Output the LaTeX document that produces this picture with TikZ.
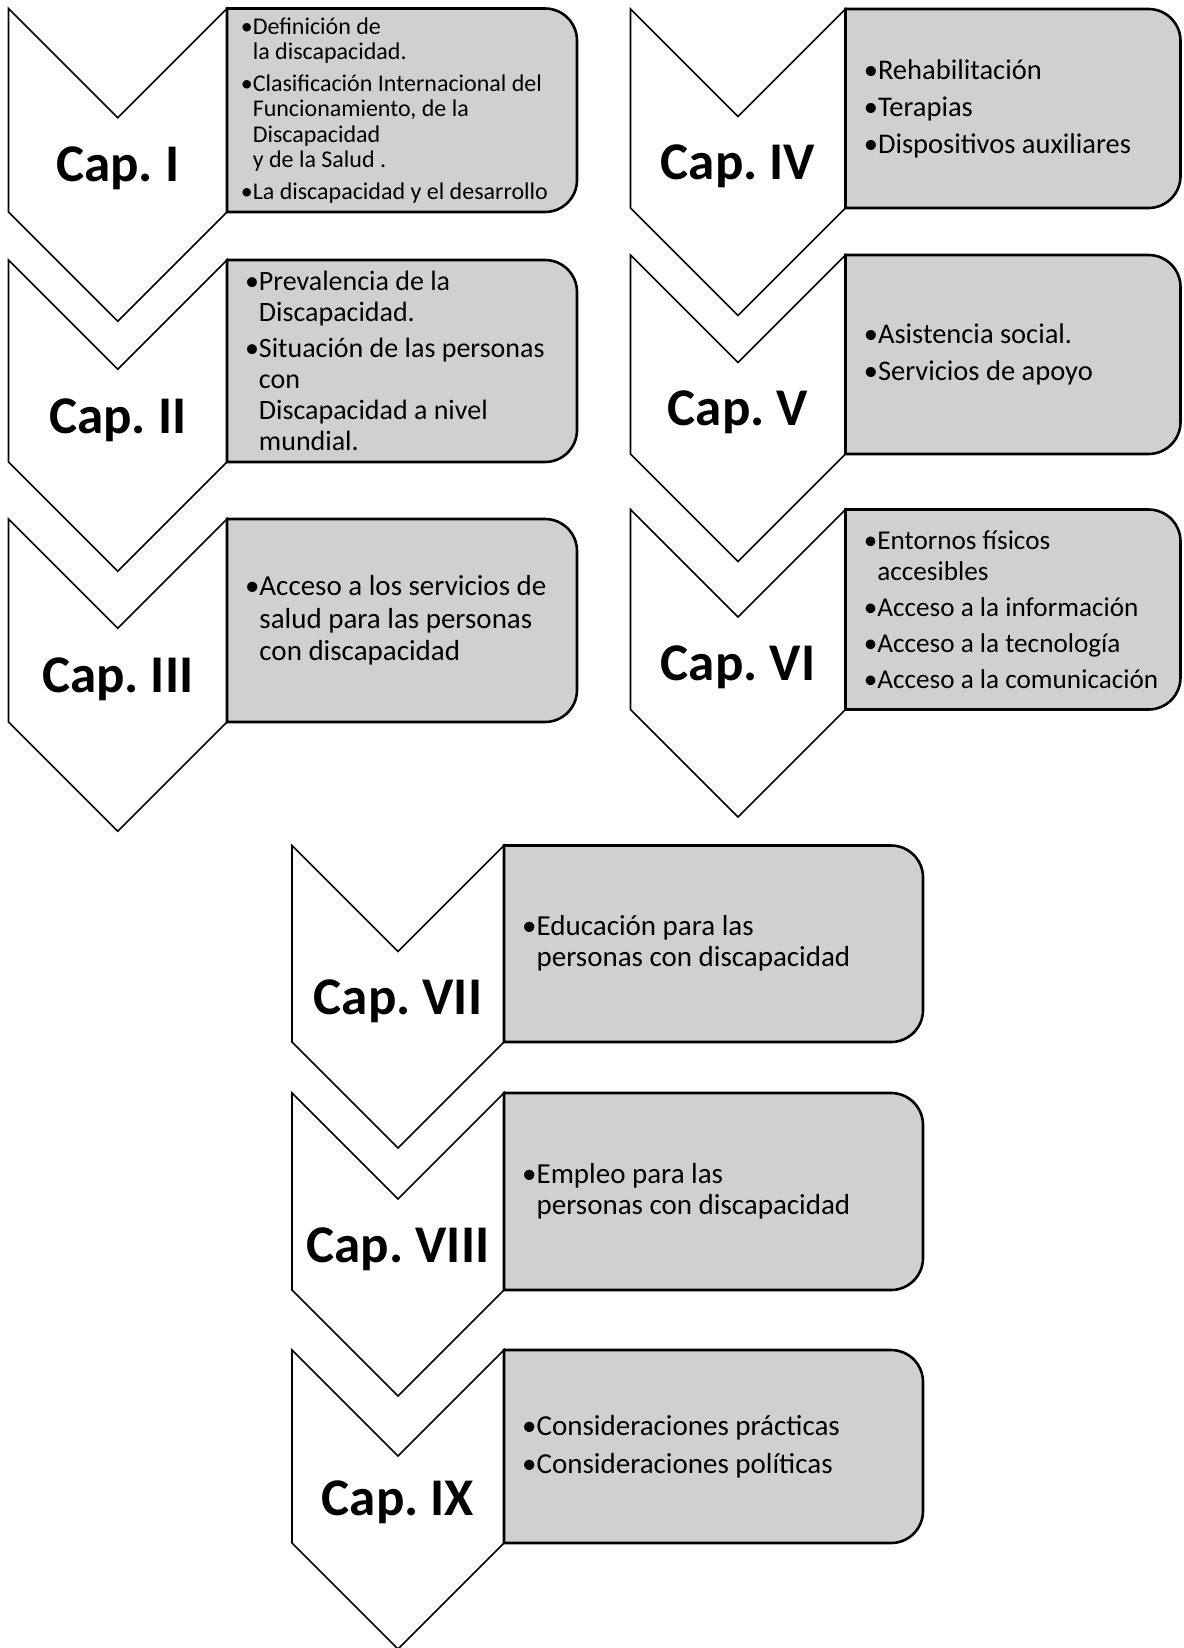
\documentclass[tikz,border=0pt]{standalone}
\usepackage{fontspec}
\setmainfont{Carlito}
\frenchspacing
\definecolor{boxgray}{RGB}{208,208,208}
\newcommand\bul{\textbullet}
\newcommand\hb{\hphantom{\textbullet}}
% chevron: xl, xr, top, bottom
\newcommand\chevshape[4]{%
  \draw[chev] (#1,#3) -- ({(#1+#2)/2},{#3+(#2-#1)/2}) -- (#2,#3) -- (#2,#4)
    -- ({(#1+#2)/2},{#4+(#2-#1)/2}) -- (#1,#4) -- cycle;}
% box with rounded right corners: x1, y1, x2, y2
\newcommand\rboxshape[4]{%
  \draw[rbox] (#1,#2) -- ({#3-32},#2) .. controls ({#3-14.3},#2) and (#3,{#2+14.3}) .. (#3,{#2+32})
    -- (#3,{#4-32}) .. controls (#3,{#4-14.3}) and ({#3-14.3},#4) .. ({#3-32},#4) -- (#1,#4) -- cycle;}
\tikzset{
  chev/.style={draw=black, fill=white, line width=1.6pt, line join=miter},
  rbox/.style={draw=black, fill=boxgray, line width=2.6pt},
  btext/.style={anchor=west, align=left, inner sep=0pt, text=black},
  caplabel/.style={anchor=base, inner sep=0pt, text=black,
    font=\fontsize{53}{60}\selectfont\bfseries}
}
\begin{document}
\begin{tikzpicture}[x=1pt,y=-1pt]
\useasboundingbox (0,0) rectangle (1183,1648);
% ---- column A
\chevshape{8.5}{227}{8.5}{212}
\rboxshape{227}{8.5}{577}{212}
\chevshape{8.5}{227}{260}{462}
\rboxshape{227}{260}{577}{462}
\chevshape{8.5}{227}{519}{722}
\rboxshape{227}{519}{577}{722}
% ---- column B
\chevshape{630.5}{845.5}{9}{208}
\rboxshape{845.5}{9}{1180.5}{208}
\chevshape{630.5}{845.5}{255}{454}
\rboxshape{845.5}{255}{1180.5}{454}
\chevshape{630.5}{845.5}{509.5}{709.5}
\rboxshape{845.5}{509.5}{1180.5}{709.5}
% ---- column C
\chevshape{292}{504}{845.5}{1042}
\rboxshape{504}{845.5}{923}{1042}
\chevshape{292}{504}{1093}{1290}
\rboxshape{504}{1093}{923}{1290}
\chevshape{292}{504}{1350}{1543}
\rboxshape{504}{1350}{923}{1543}
% ---- chapter labels
\node[caplabel] (c1) at (117.75,182) {Cap. I};
\node[caplabel] (c2) at (117.75,433) {Cap. II};
\node[caplabel] (c3) at (117.75,692) {Cap. III};
\node[caplabel] (c4) at (738,179) {Cap. IV};
\node[caplabel] (c5) at (738,425) {Cap. V};
\node[caplabel] (c6) at (738,680) {Cap. VI};
\node[caplabel] (c7) at (398,1014) {Cap. VII};
\node[caplabel] (c8) at (398,1262) {Cap. VIII};
\node[caplabel] (c9) at (398,1515) {Cap. IX};
% ---- box texts
\node[btext, font=\fontsize{24}{25.5}\selectfont] (t1) at (240.6,110.2)
  {\bul Definición de\\ \hb la discapacidad.\\[6pt]
   \bul Clasificación Internacional del\\ \hb Funcionamiento, de la\\ \hb Discapacidad\\ \hb y de la Salud .\\[6pt]
   \bul La discapacidad y el desarrollo};
\node[btext, font=\fontsize{28}{31}\selectfont] (t2) at (244.8,361)
  {\bul Prevalencia de la\\ \hb Discapacidad.\\[5pt]
   \bul Situación de las personas\\ \hb con\\ \hb Discapacidad a nivel\\ \hb mundial.};
\node[btext, font=\fontsize{29}{32.5}\selectfont] (t3) at (244.8,620.5)
  {\bul Acceso a los servicios de\\ \hb salud para las personas\\ \hb con discapacidad};
\node[btext, font=\fontsize{28.5}{31.5}\selectfont] (t4) at (863.6,108.5)
  {\bul Rehabilitación\\[5.5pt] \bul Terapias\\[5.5pt] \bul Dispositivos auxiliares};
\node[btext, font=\fontsize{28.5}{31.5}\selectfont] (t5) at (863.6,354.5)
  {\bul Asistencia social.\\[5.5pt] \bul Servicios de apoyo};
\node[btext, font=\fontsize{27.2}{31.5}\selectfont] (t6) at (863.6,609.5)
  {\bul Entornos físicos\\ \hb accesibles\\[4.5pt] \bul Acceso a la información\\[4.5pt]
   \bul Acceso a la tecnología\\[4.5pt] \bul Acceso a la comunicación};
\node[btext, font=\fontsize{29}{31.5}\selectfont] (t7) at (522,943.5)
  {\bul Educación para las\\ \hb personas con discapacidad};
\node[btext, font=\fontsize{29}{31.5}\selectfont] (t8) at (522,1191.5)
  {\bul Empleo para las\\ \hb personas con discapacidad};
\node[btext, font=\fontsize{29}{31.5}\selectfont] (t9) at (522,1446.5)
  {\bul Consideraciones prácticas\\[6.5pt] \bul Consideraciones políticas};
\end{tikzpicture}
\end{document}
